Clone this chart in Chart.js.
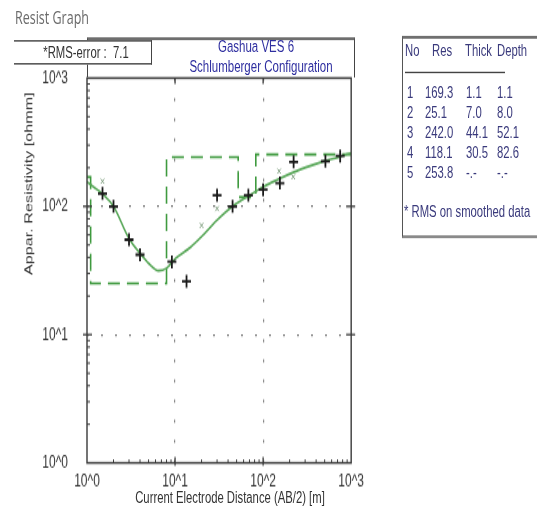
<!DOCTYPE html>
<html>
<head>
<meta charset="utf-8">
<script src="https://cdn.jsdelivr.net/npm/chart.js@4.4.1/dist/chart.umd.min.js"></script>
<style>
  html, body { margin: 0; padding: 0; background: #fff; overflow: hidden; }
  body { width: 537px; height: 518px; position: relative; font-family: 'Liberation Sans', Arial, sans-serif; }
  /* the whole sheet is laid out 361px tall and stretched to 518 */
  #sheet { position: absolute; left: 0; top: 0; width: 537px; height: 361px;
           transform-origin: 0 0; transform: scaleY(1.4349); }
  .lbl { position: absolute; white-space: nowrap; line-height: 1; transform: translate(-50%, -50%); }
  .left { position: absolute; white-space: nowrap; line-height: 1; transform: translateY(-50%); }
  #heading { left: 15px; top: 13px; font-family: 'Open Sans', sans-serif; font-size: 12.5px; color: #6a6a6a; }
  #plotWrap { position: absolute; left: 0; top: 0; width: 370px; height: 361px; z-index: 1; }
  #titleBox { position: absolute; left: 87px; top: 25.8px; width: 268px; height: 28.6px;
              border-top: 2px solid #6e6e6e; border-left: 1px solid #444; border-right: 1px solid #444;
              box-sizing: border-box; z-index: 2; }
  #rmsBox { position: absolute; left: 14px; top: 27.9px; width: 138px; height: 17.4px; background: #fff;
            border-top: 1px solid #444; border-bottom: 1px solid #444; border-right: 1px solid #444;
            box-sizing: border-box; z-index: 3; }
  .title { color: #2f2fa0; font-size: 11.5px; z-index: 4; }
  #rmsText { font-size: 11.3px; color: #333; z-index: 4; }
  .axisTitle { font-size: 11.3px; color: #333; z-index: 2; }
  #yTitle { transform: translate(-50%, -50%) rotate(-90deg); }
  #layerBox { position: absolute; left: 402px; top: 25.1px; width: 160px; height: 140.8px;
              border-top: 2px solid #707070; border-left: 1px solid #555; border-bottom: 2px solid #8a8a8a;
              box-sizing: border-box; }
  #layerTable .left { font-size: 11.3px; color: #3a3a7c; }
  #headRule { position: absolute; left: 405px; top: 50px; width: 100px; height: 0; border-top: 1px solid #444; }
</style>
</head>
<body>
<div id="sheet">
  <div id="heading" class="left">Resist Graph</div>
  <div id="titleBox"></div>
  <div class="lbl title" style="left:256px; top:33.4px">Gashua VES 6</div>
  <div class="lbl title" style="left:261px; top:47.4px">Schlumberger Configuration</div>
  <div id="rmsBox"></div>
  <div id="rmsText" class="lbl" style="left:86px; top:37px">*RMS-error :&nbsp; 7.1</div>
  <div id="plotWrap"><canvas id="resChart" width="370" height="361"></canvas></div>
  <div id="yTitle" class="lbl axisTitle" style="left:29px; top:128px">Appar. Resistivity [ohmm]</div>
  <div id="xTitle" class="lbl axisTitle" style="left:230px; top:347px">Current Electrode Distance (AB/2) [m]</div>
  <div id="layerBox"></div>
  <div id="headRule"></div>
  <div id="layerTable"></div>
</div>

<script>
// Interpreted layer model
const layerNo    = [1, 2, 3, 4, 5];
const layerRes   = [169.3, 25.1, 242.0, 118.1, 253.8];
const layerThick = [1.1, 7.0, 44.1, 30.5, null];
const layerDepth = [1.1, 8.0, 52.1, 82.6, null];

// Field measurements (AB/2 in m, apparent resistivity in ohmm)
const obsAB  = [1.5, 2, 3, 4, 9.2, 13.5, 30, 45, 68, 100, 155, 222, 510, 750];
const obsRho = [126, 100, 55, 42, 37, 26, 122, 100, 122, 135, 152, 222, 225, 247];

// Smoothed data
const smAB  = [1.5, 20, 30, 152, 220];
const smRho = [157, 71, 96, 188, 170];

// Calculated response of the model
const calcAB  = [1, 1.5, 2, 3, 4, 5, 6.5, 8, 10, 15, 20, 30, 45, 70, 100, 150, 220, 350, 500, 750, 1000];
const calcRho = [155, 125, 100, 56, 43, 36, 31.5, 33, 39, 48, 58, 78, 100, 122, 142, 163, 184, 208, 226, 244, 262];

const decadeValues = [1, 10, 100, 1000];
const decadeLabels = ['10^0', '10^1', '10^2', '10^3'];

const xMin = 1, xMax = 1000;

// layer table
function fmt(v) { return v === null ? '-.-' : v.toFixed(1); }
function addText(parent, text, x, y) {
    const d = document.createElement('div');
    d.className = 'left';
    d.style.left = x + 'px';
    d.style.top = y + 'px';
    d.textContent = text;
    parent.appendChild(d);
}
const table = document.getElementById('layerTable');
addText(table, 'No', 405, 36.2);
addText(table, 'Res', 432, 36.2);
addText(table, 'Thick', 465, 36.2);
addText(table, 'Depth', 497, 36.2);
layerNo.forEach((n, i) => {
    const y = 64.8 + i * 13.93;
    addText(table, String(n), 407, y);
    addText(table, layerRes[i].toFixed(1), 425, y);
    addText(table, fmt(layerThick[i]), 466, y);
    addText(table, fmt(layerDepth[i]), 497, y);
});
addText(table, '* RMS on smoothed data', 404, 148.4);

// step line of the layer model
const modelSteps = [{ x: xMin, y: layerRes[0] }];
for (let i = 0; i < layerRes.length - 1; i++) {
    modelSteps.push({ x: layerDepth[i], y: layerRes[i] });
    modelSteps.push({ x: layerDepth[i], y: layerRes[i + 1] });
}
modelSteps.push({ x: xMax, y: layerRes[layerRes.length - 1] });

const toPoints = (xs, ys) => xs.map((x, i) => ({ x: x, y: ys[i] }));

// frame plus decade and minor tick marks
const frameTicks = {
    id: 'frameTicks',
    afterDraw(chart) {
        const { ctx, chartArea: a, scales: { x, y } } = chart;
        ctx.save();
        ctx.strokeStyle = '#3a3a3a';
        const line = (x1, y1, x2, y2) => { ctx.beginPath(); ctx.moveTo(x1, y1); ctx.lineTo(x2, y2); ctx.stroke(); };
        ctx.lineWidth = 1;
        for (let d = 1; d < 1000; d *= 10) {
            for (let m = 2; m < 10; m++) {
                const px = x.getPixelForValue(d * m);
                line(px, a.bottom, px, a.bottom - 2.5);
                const py = y.getPixelForValue(d * m);
                line(a.left, py, a.left + 3, py);
            }
        }
        ctx.lineWidth = 1.3;
        [10, 100].forEach(v => {
            const px = x.getPixelForValue(v);
            line(px, a.bottom - 4, px, a.bottom + 2);
            line(px, a.top, px, a.top + 4);
            const py = y.getPixelForValue(v);
            line(a.left - 4, py, a.left + 5, py);
            line(a.right - 5, py, a.right + 4, py);
        });
        ctx.lineWidth = 1.4;
        ctx.strokeRect(a.left, a.top, a.right - a.left, a.bottom - a.top);
        ctx.restore();
    }
};

const gridColor = c => (c.tick && (c.tick.value === 10 || c.tick.value === 100)) ? '#7a7a7a' : 'rgba(0,0,0,0)';
const tickLabel = (value) => decadeLabels[decadeValues.indexOf(value)] || '';

new Chart(document.getElementById('resChart'), {
    type: 'scatter',
    data: {
        datasets: [
            {
                label: 'Observed',
                data: toPoints(obsAB, obsRho),
                pointStyle: 'cross',
                pointRadius: 4.5,
                borderColor: '#1a1a1a',
                borderWidth: 1.8,
                showLine: false
            },
            {
                label: 'Smoothed',
                data: toPoints(smAB, smRho),
                pointStyle: 'crossRot',
                pointRadius: 2.5,
                borderColor: '#7f9f7f',
                borderWidth: 1,
                showLine: false
            },
            {
                label: 'Calculated',
                data: toPoints(calcAB, calcRho),
                showLine: true,
                borderColor: '#5aa85a',
                borderWidth: 1.6,
                pointRadius: 0,
                cubicInterpolationMode: 'monotone'
            },
            {
                label: 'Model',
                data: modelSteps,
                showLine: true,
                borderColor: '#3f9a3f',
                borderWidth: 1.6,
                borderDash: [12, 7],
                pointRadius: 0,
                tension: 0
            }
        ]
    },
    options: {
        responsive: false,
        animation: false,
        events: [],
        layout: { padding: { left: 0, right: 15, top: 54.4, bottom: 0 } },
        plugins: { legend: { display: false }, tooltip: { enabled: false } },
        scales: {
            x: {
                type: 'logarithmic',
                min: xMin, max: xMax,
                afterBuildTicks: s => { s.ticks = decadeValues.map(v => ({ value: v })); },
                afterFit: s => { s.height = 38.4; },
                ticks: { callback: tickLabel, font: { size: 12, family: 'Liberation Sans' }, color: '#333', padding: 6, maxRotation: 0 },
                grid: { color: gridColor, lineWidth: 1.2, drawTicks: false },
                border: { display: false, dash: [2, 12] }
            },
            y: {
                type: 'logarithmic',
                min: 1, max: 1000,
                afterBuildTicks: s => { s.ticks = decadeValues.map(v => ({ value: v })); },
                afterFit: s => { s.width = 87; },
                ticks: { callback: tickLabel, font: { size: 12, family: 'Liberation Sans' }, color: '#333', padding: 19 },
                grid: { color: gridColor, lineWidth: 1.2, drawTicks: false },
                border: { display: false, dash: [2, 12] }
            }
        }
    },
    plugins: [frameTicks]
});
</script>
</body>
</html>
